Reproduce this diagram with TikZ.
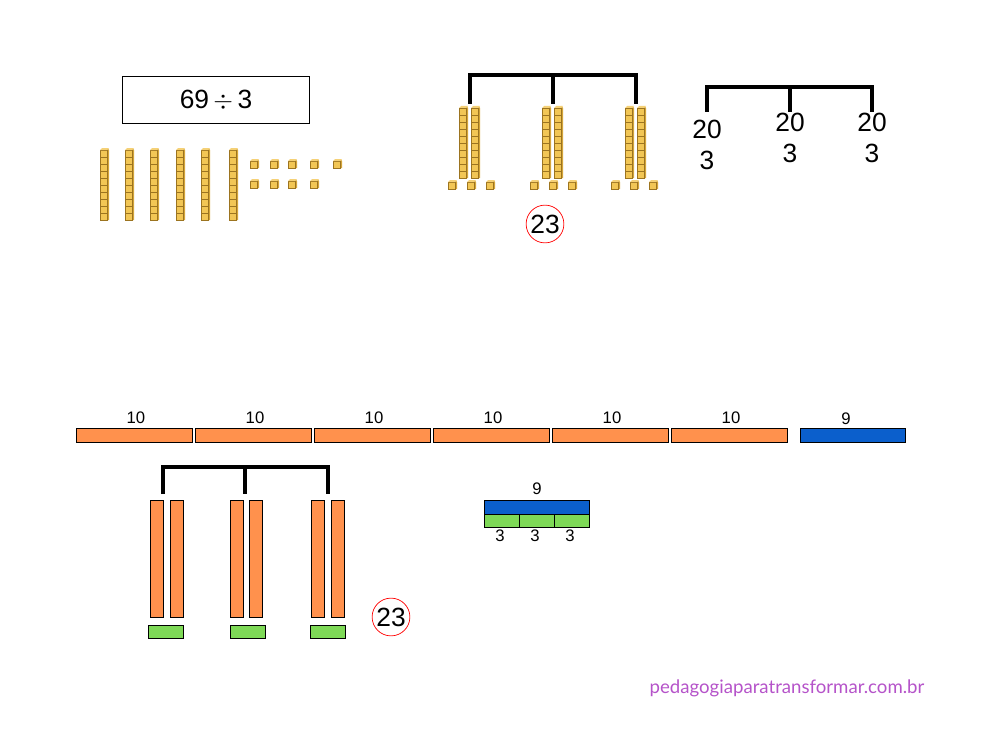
\documentclass[tikz,border=0pt]{standalone}
\usepackage{fontspec}
\setmainfont{Liberation Sans}
\newfontfamily\sitefont{Lato}
\usepackage{xcolor}
\usetikzlibrary{positioning}
\definecolor{cubeyellow}{HTML}{F2C655}
\definecolor{cubeedge}{HTML}{9C7420}
\definecolor{cubeside}{HTML}{D4A53A}
\definecolor{barorange}{HTML}{FF914D}
\definecolor{barblue}{HTML}{0B5FCC}
\definecolor{bargreen}{HTML}{7ED957}
\definecolor{sitepurple}{HTML}{B553C9}
\tikzset{
  orangebar/.style={draw=black, fill=barorange, line width=0.4pt},
  bluebar/.style={draw=black, fill=barblue, line width=0.4pt},
  greenbar/.style={draw=black, fill=bargreen, line width=0.4pt},
  bracket/.style={line width=2.2pt},
  small/.style={font=\fontsize{9.5}{12}\selectfont},
  big/.style={font=\fontsize{15}{18}\selectfont},
  mark23/.style={circle, draw=red, minimum size=21.5pt, inner sep=0pt, font=\fontsize{15}{18}\selectfont}
}
% a rod of ten cubes, top left corner at #1,#2
\newcommand{\tenrod}[2]{%
  \fill[cubeside] (#1+7,#2-2) -- (#1+9,#2) -- (#1+9,#2+70) -- (#1+7,#2+70) -- cycle;
  \draw[cubeedge, fill=cubeyellow, line width=0.3pt] (#1,#2) rectangle (#1+7,#2+70);
  \foreach \k in {1,...,9} {\draw[cubeedge, line width=0.3pt] (#1,#2+7*\k) -- (#1+7,#2+7*\k);}
  \fill[cubeyellow!80!white] (#1,#2) -- (#1+2,#2-2) -- (#1+9,#2-2) -- (#1+7,#2) -- cycle;
}
% a single cube, top left corner at #1,#2
\newcommand{\onecube}[2]{%
  \fill[cubeside] (#1+7,#2-2) -- (#1+9,#2) -- (#1+9,#2+7) -- (#1+7,#2+7) -- cycle;
  \draw[cubeedge, fill=cubeyellow, line width=0.3pt] (#1,#2) rectangle (#1+7,#2+7);
  \fill[cubeyellow!80!white] (#1,#2) -- (#1+2,#2-2) -- (#1+9,#2-2) -- (#1+7,#2) -- cycle;
}
\begin{document}
\begin{tikzpicture}[x=0.02cm, y=-0.02cm]
\useasboundingbox (0,0) rectangle (1000,750);

% division box
\node[draw, line width=0.8pt, minimum width=3.74cm, minimum height=0.94cm, big] (task) at (216,100) {69\,{\Large$\div$}\,3};

% 69 in base ten blocks
\foreach \x in {100,125,150,176,201,229} {\tenrod{\x}{150}}
\foreach \x in {250,270,288,310,333} {\onecube{\x}{161}}
\foreach \x in {250,270,288,310} {\onecube{\x}{181}}

% shared into three groups
\coordinate (ga) at (470,104);
\coordinate (gb) at (553,104);
\coordinate (gc) at (636,104);
\draw[bracket] (ga) -- (470,75) -- (636,75) -- (gc);
\draw[bracket] (553,75) -- (gb);
\foreach \x in {459,471,542,554,625,637} {\tenrod{\x}{108}}
\foreach \x in {448,467,486,530,549,568,611,630,649} {\onecube{\x}{182}}
\node[mark23] (resa) at (545,224) {23};

% tree with numbers
\coordinate (ta) at (707,112);
\coordinate (tb) at (790,112);
\coordinate (tc) at (872,112);
\draw[bracket] (ta) -- (707,87) -- (872,87) -- (tc);
\draw[bracket] (790,87) -- (tb);
\node[big, align=center, below=1pt of ta] (la) {20\\3};
\node[big, align=center, below=-3pt of tb] (lb) {20\\3};
\node[big, align=center, below=-3pt of tc] (lc) {20\\3};

% 69 as bars
\foreach \x [count=\i] in {76,195,314,433,552,671} {
  \draw[orangebar] (\x,428) rectangle (\x+116,442);
  \node[small] (ten\i) at (\x+60,418) {10};
}
\draw[bluebar] (800,428) rectangle (905,442);
\node[small] (nine) at (846,419) {9};

% tens shared out
\coordinate (ba) at (163,494);
\coordinate (bb) at (245,494);
\coordinate (bc) at (328,494);
\draw[bracket] (ba) -- (163,467) -- (328,467) -- (bc);
\draw[bracket] (245,467) -- (bb);
\foreach \x in {150,170,230,249,311,331} {\draw[orangebar] (\x,500) rectangle (\x+13,617);}
\foreach \x in {148,230,310} {\draw[greenbar] (\x,625) rectangle (\x+35,638);}
\node[mark23] (resb) at (391,617) {23};

% nine shared out
\draw[bluebar] (484,500) rectangle (589,514);
\node[small] (ninel) at (537,489) {9};
\foreach \x [count=\i] in {484,519,554} {
  \draw[greenbar] (\x,514) rectangle (\x+35,527);
  \node[small] (three\i) at (\x+16,536) {3};
}

\node[sitepurple, font=\sitefont\fontsize{10.6}{13}\selectfont] (site) at (787,688) {pedagogiaparatransformar.com.br};
\end{tikzpicture}
\end{document}
